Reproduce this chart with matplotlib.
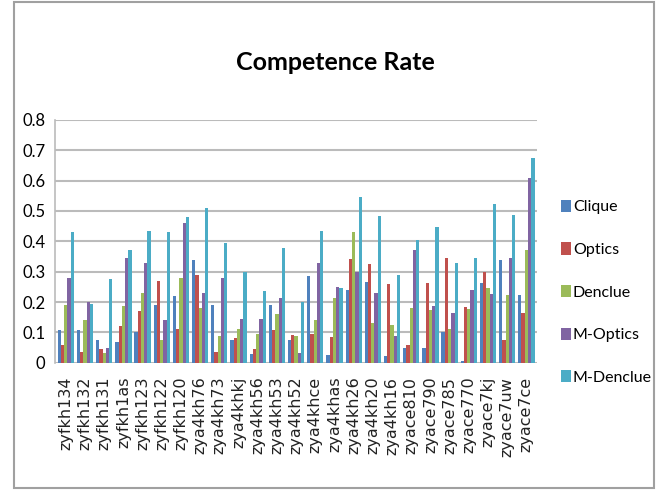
#Competence rate of five clustering methods over 25 data sets
#grouped bar chart, Excel style

import numpy as np
import matplotlib.pyplot as plt
from matplotlib.patches import Rectangle

datasets = ['zyfkh134','zyfkh132','zyfkh131','zyfkh1as','zyfkh123','zyfkh122','zyfkh120',
			'zya4kh76','zya4kh73','zya4khkj','zya4kh56','zya4kh53','zya4kh52','zya4khce',
			'zya4khas','zya4kh26','zya4kh20','zya4kh16','zyace810','zyace790','zyace785',
			'zyace770','zyace7kj','zyace7uw','zyace7ce']

Clique   = [0.107,0.107,0.074,0.070,0.103,0.190,0.220,0.340,0.190,0.074,0.030,0.190,0.074,
			0.285,0.026,0.240,0.266,0.024,0.050,0.050,0.100,0.005,0.263,0.340,0.222]
Optics   = [0.060,0.037,0.046,0.120,0.170,0.270,0.110,0.290,0.037,0.082,0.046,0.107,0.092,
			0.096,0.085,0.343,0.325,0.258,0.060,0.263,0.345,0.185,0.300,0.076,0.165]
Denclue  = [0.190,0.140,0.033,0.186,0.230,0.074,0.280,0.180,0.090,0.110,0.096,0.160,0.090,
			0.140,0.213,0.430,0.130,0.123,0.180,0.175,0.110,0.176,0.246,0.222,0.370]
MOptics  = [0.280,0.200,0.050,0.345,0.330,0.140,0.460,0.230,0.280,0.145,0.145,0.213,0.033,
			0.330,0.250,0.300,0.230,0.090,0.370,0.187,0.165,0.240,0.225,0.345,0.610]
MDenclue = [0.430,0.195,0.277,0.372,0.435,0.430,0.480,0.510,0.395,0.300,0.235,0.378,0.200,
			0.435,0.245,0.546,0.483,0.288,0.405,0.447,0.330,0.345,0.524,0.488,0.675]

series = [Clique, Optics, Denclue, MOptics, MDenclue]
names  = ['Clique','Optics','Denclue','M-Optics','M-Denclue']
colors = ['#4F81BD','#C0504D','#9BBB59','#8064A2','#4BACC6']

fig = plt.figure(figsize=(6.58,4.93), dpi=100)

# grey outer border of the chart area
fig.patches.append(Rectangle((0.022,0.01), 0.972, 0.985, transform=fig.transFigure,
							 fill=False, edgecolor='#A0A0A0', linewidth=1.5))

ax = fig.add_axes([0.084,0.264,0.732,0.493])

x = np.arange(len(datasets))
w = 0.17
for i in range(len(series)):
	ax.bar(x + (i-2)*w, series[i], width=w, color=colors[i], label=names[i], zorder=3)

ax.set_ylim(0,0.8)
ax.set_xlim(-0.55, len(datasets)-0.45)
ax.set_yticks(np.arange(0,0.81,0.1))
ax.set_yticklabels(['0' if v == 0 else '%.1f' % v for v in np.arange(0,0.81,0.1)],
				   family='Lato', fontsize=12)
ax.yaxis.grid(True, color='#BBBBBB', linewidth=1.5, zorder=0)
ax.set_xticks(x)
ax.set_xticklabels(datasets, rotation=90, fontsize=11.5, family='DejaVu Sans', color='#222222')
ax.tick_params(axis='x', length=0, pad=10)
ax.tick_params(axis='y', length=0, pad=7)

for s in ['top','right','bottom']:
	ax.spines[s].set_visible(False)
ax.spines['left'].set_color('#BBBBBB')
ax.spines['left'].set_linewidth(1.2)

fig.text(0.51, 0.873, 'Competence Rate', ha='center', va='center',
		 fontsize=18, fontweight='bold', family='Lato')

leg = ax.legend(loc='center left', bbox_to_anchor=(1.02, 0.29), frameon=False,
				handlelength=0.6, handleheight=0.8, handletextpad=0.15,
				labelspacing=1.75, prop={'family': 'Lato', 'size': 11.5})

plt.savefig('out.png', dpi=100)
